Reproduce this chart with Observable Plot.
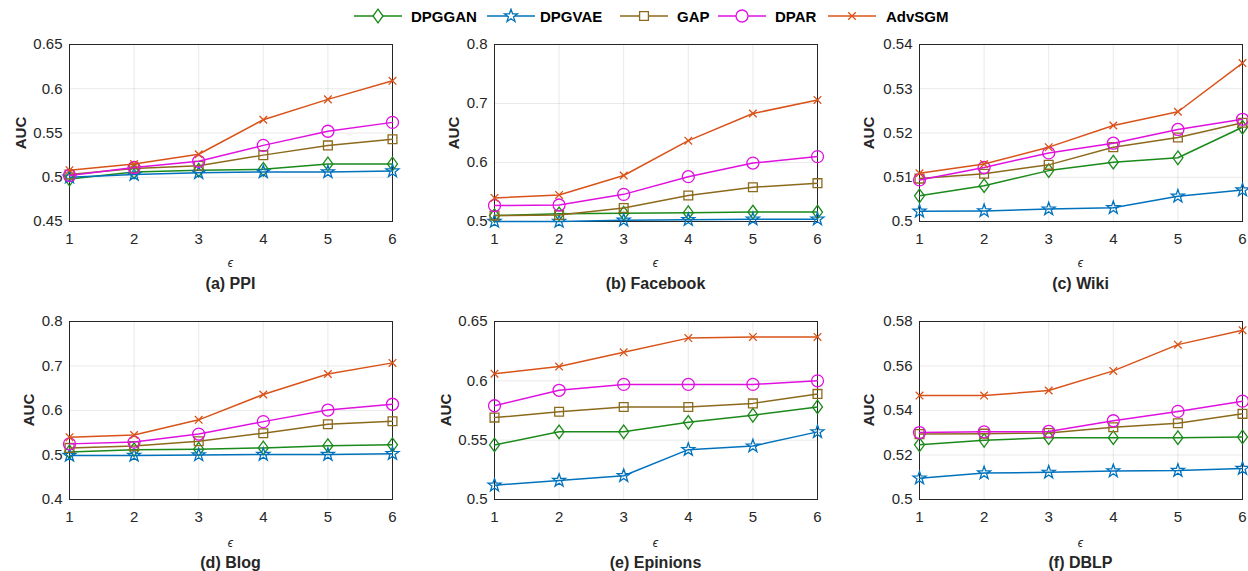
<!DOCTYPE html>
<html>
<head>
<meta charset="utf-8">
<script src="https://cdn.jsdelivr.net/npm/d3@7"></script>
<script src="https://cdn.jsdelivr.net/npm/@observablehq/plot@0.6"></script>
<style>
  html, body { margin: 0; padding: 0; background: #fff; }
  #root { position: relative; width: 1248px; height: 571px; overflow: hidden; font-family: "Liberation Sans", Arial, Helvetica, sans-serif; color: #262626; }
  .panel { position: absolute; }
  .lab { position: absolute; white-space: nowrap; color: #262626; }
  .auc { font-weight: bold; font-size: 15px; transform: translate(-50%, -50%) rotate(-90deg); }
  .eps { font-size: 12px; font-style: italic; transform: translate(-50%, -50%); }
  .cap { font-weight: bold; font-size: 16px; transform: translate(-50%, -50%); }
  .leg { position: absolute; top: 16px; font-weight: bold; font-size: 15px; color: #000; transform: translateY(-50%); white-space: nowrap; }
  .legsym { position: absolute; top: 8px; }
</style>
</head>
<body>
<div id="root"></div>
<script>
// ---------- data ----------
const epsilons = [1, 2, 3, 4, 5, 6];
const seriesNames = ["DPGGAN", "DPGVAE", "GAP", "DPAR", "AdvSGM"];
const seriesColors = ["#1a8a1a", "#0072bd", "#8c6a1c", "#e010e0", "#d95319"];

// values per dataset, in series order: DPGGAN, DPGVAE, GAP, DPAR, AdvSGM
const PPI = [
  [0.498, 0.506, 0.508, 0.509, 0.515, 0.515],
  [0.500, 0.503, 0.505, 0.506, 0.506, 0.507],
  [0.503, 0.510, 0.513, 0.525, 0.536, 0.543],
  [0.502, 0.511, 0.518, 0.536, 0.552, 0.562],
  [0.508, 0.515, 0.526, 0.565, 0.588, 0.609]
];
const Facebook = [
  [0.510, 0.513, 0.514, 0.515, 0.516, 0.516],
  [0.500, 0.500, 0.502, 0.503, 0.504, 0.504],
  [0.510, 0.511, 0.523, 0.544, 0.558, 0.565],
  [0.527, 0.528, 0.546, 0.576, 0.599, 0.610],
  [0.540, 0.545, 0.578, 0.637, 0.683, 0.706]
];
const Wiki = [
  [0.5058, 0.5081, 0.5115, 0.5134, 0.5144, 0.5213],
  [0.5023, 0.5024, 0.5028, 0.5031, 0.5057, 0.5071],
  [0.5097, 0.5108, 0.5128, 0.5168, 0.5190, 0.5223],
  [0.5094, 0.5122, 0.5155, 0.5177, 0.5208, 0.5231],
  [0.5109, 0.5130, 0.5168, 0.5217, 0.5248, 0.5358]
];
const Blog = [
  [0.507, 0.512, 0.513, 0.516, 0.521, 0.523],
  [0.499, 0.499, 0.500, 0.501, 0.501, 0.503],
  [0.516, 0.520, 0.531, 0.549, 0.569, 0.576],
  [0.525, 0.529, 0.547, 0.575, 0.601, 0.614],
  [0.540, 0.545, 0.579, 0.636, 0.682, 0.707]
];
const Epinions = [
  [0.546, 0.557, 0.557, 0.565, 0.571, 0.578],
  [0.512, 0.516, 0.520, 0.542, 0.545, 0.557],
  [0.569, 0.574, 0.578, 0.578, 0.581, 0.589],
  [0.579, 0.592, 0.597, 0.597, 0.597, 0.600],
  [0.606, 0.612, 0.624, 0.636, 0.637, 0.637]
];
const DBLP = [
  [0.5246, 0.5266, 0.5278, 0.5278, 0.5278, 0.5281],
  [0.5096, 0.5119, 0.5122, 0.5128, 0.5130, 0.5139],
  [0.5294, 0.5296, 0.5299, 0.5325, 0.5343, 0.5385],
  [0.5301, 0.5304, 0.5306, 0.5354, 0.5396, 0.5442],
  [0.5467, 0.5467, 0.5490, 0.5578, 0.5696, 0.5761]
];

const panelTitles = ["(a) PPI", "(b) Facebook", "(c) Wiki", "(d) Blog", "(e) Epinions", "(f) DBLP"];
const panelValues = [PPI, Facebook, Wiki, Blog, Epinions, DBLP];
const yDomains = [[0.45, 0.65], [0.5, 0.8], [0.5, 0.54], [0.4, 0.8], [0.5, 0.65], [0.5, 0.58]];
const yTicks = [
  [0.45, 0.5, 0.55, 0.6, 0.65],
  [0.5, 0.6, 0.7, 0.8],
  [0.5, 0.51, 0.52, 0.53, 0.54],
  [0.4, 0.5, 0.6, 0.7, 0.8],
  [0.5, 0.55, 0.6, 0.65],
  [0.5, 0.52, 0.54, 0.56, 0.58]
];

// ---------- custom hollow MATLAB-like markers ----------
const symDiamond = { draw(c) { c.moveTo(0, -6.8); c.lineTo(5, 0); c.lineTo(0, 6.8); c.lineTo(-5, 0); c.closePath(); } };
const symStar = { draw(c) {
  const R = 6.8, r = 2.7;
  for (let i = 0; i < 10; i++) {
    const a = -Math.PI / 2 + i * Math.PI / 5, rr = i % 2 ? r : R;
    const x = rr * Math.cos(a), y = rr * Math.sin(a);
    if (i === 0) c.moveTo(x, y); else c.lineTo(x, y);
  }
  c.closePath();
} };
const symSquare = { draw(c) { c.moveTo(-4.4, -4.4); c.lineTo(4.4, -4.4); c.lineTo(4.4, 4.4); c.lineTo(-4.4, 4.4); c.closePath(); } };
const symCircle = { draw(c) { c.moveTo(6, 0); c.arc(0, 0, 6, 0, 2 * Math.PI); c.closePath(); } };
const symTimes = { draw(c) { c.moveTo(-3.8, -3.8); c.lineTo(3.8, 3.8); c.moveTo(-3.8, 3.8); c.lineTo(3.8, -3.8); } };
const seriesSymbols = [symDiamond, symStar, symSquare, symCircle, symTimes];

// ---------- layout ----------
const cols = [
  { left: 0, width: 415, plotL: 69, plotR: 392 },
  { left: 420, width: 410, plotL: 494, plotR: 817 },
  { left: 830, width: 418, plotL: 919, plotR: 1242 }
];
const rows = [
  { top: 30, height: 270, plotT: 44, plotB: 221, epsY: 263, capY: 284 },
  { top: 300, height: 271, plotT: 321, plotB: 499, epsY: 543, capY: 563 }
];
const aucXs = [20, 453, 868, 28, 445, 868];
const legendLineX = [354, 487, 620, 718, 828];
const legendTextX = [411, 540, 677, 775, 886];

const root = document.getElementById("root");

panelValues.forEach((vals, p) => {
  const col = cols[p % 3], row = rows[Math.floor(p / 3)];
  const data = [];
  vals.forEach((arr, s) => arr.forEach((v, i) => data.push({ eps: epsilons[i], auc: v, series: seriesNames[s] })));
  const marks = [Plot.frame({ stroke: "#262626", strokeWidth: 1 })];
  seriesNames.forEach((name, s) => {
    const d = data.filter(r => r.series === name);
    marks.push(Plot.line(d, { x: "eps", y: "auc", stroke: seriesColors[s], strokeWidth: 1.5 }));
    marks.push(Plot.dot(d, { x: "eps", y: "auc", stroke: seriesColors[s], fill: "none", strokeWidth: 1.3, symbol: seriesSymbols[s], r: 5 }));
  });
  const chart = Plot.plot({
    width: col.width,
    height: row.height,
    marginLeft: col.plotL - col.left,
    marginRight: col.left + col.width - col.plotR,
    marginTop: row.plotT - row.top,
    marginBottom: row.top + row.height - row.plotB,
    style: { fontFamily: "Liberation Sans, Arial, Helvetica, sans-serif", fontSize: "15px", color: "#262626", background: "transparent", overflow: "visible" },
    x: { domain: [1, 6], ticks: epsilons, tickSize: 0, tickPadding: 12, label: null, grid: true, tickFormat: d3.format("d") },
    y: { domain: yDomains[p], ticks: yTicks[p], tickSize: 0, tickPadding: 7, label: null, grid: true, tickFormat: d3.format("~g") },
    marks
  });
  chart.classList.add("panel");
  chart.style.left = col.left + "px";
  chart.style.top = row.top + "px";
  root.appendChild(chart);

  const cx = (col.plotL + col.plotR) / 2, cy = (row.plotT + row.plotB) / 2;
  const auc = document.createElement("div");
  auc.className = "lab auc"; auc.textContent = "AUC";
  auc.style.left = aucXs[p] + "px"; auc.style.top = cy + "px";
  root.appendChild(auc);
  const eps = document.createElement("div");
  eps.className = "lab eps"; eps.textContent = "ϵ";
  eps.style.left = cx + "px"; eps.style.top = row.epsY + "px";
  root.appendChild(eps);
  const cap = document.createElement("div");
  cap.className = "lab cap"; cap.textContent = panelTitles[p];
  cap.style.left = cx + "px"; cap.style.top = row.capY + "px";
  root.appendChild(cap);
});

// ---------- legend ----------
seriesNames.forEach((name, s) => {
  const svg = d3.create("svg").attr("width", 48).attr("height", 16).attr("class", "legsym")
    .style("left", legendLineX[s] + "px");
  svg.append("line").attr("x1", 0).attr("x2", 48).attr("y1", 8).attr("y2", 8).attr("stroke", seriesColors[s]).attr("stroke-width", 1.5);
  svg.append("path").attr("transform", "translate(24,8)").attr("d", d3.symbol(seriesSymbols[s])()).attr("fill", "#fff").attr("stroke", seriesColors[s]).attr("stroke-width", 1.3);
  root.appendChild(svg.node());
  const t = document.createElement("div");
  t.className = "leg";
  t.style.left = legendTextX[s] + "px";
  t.textContent = name;
  root.appendChild(t);
});
</script>
</body>
</html>
